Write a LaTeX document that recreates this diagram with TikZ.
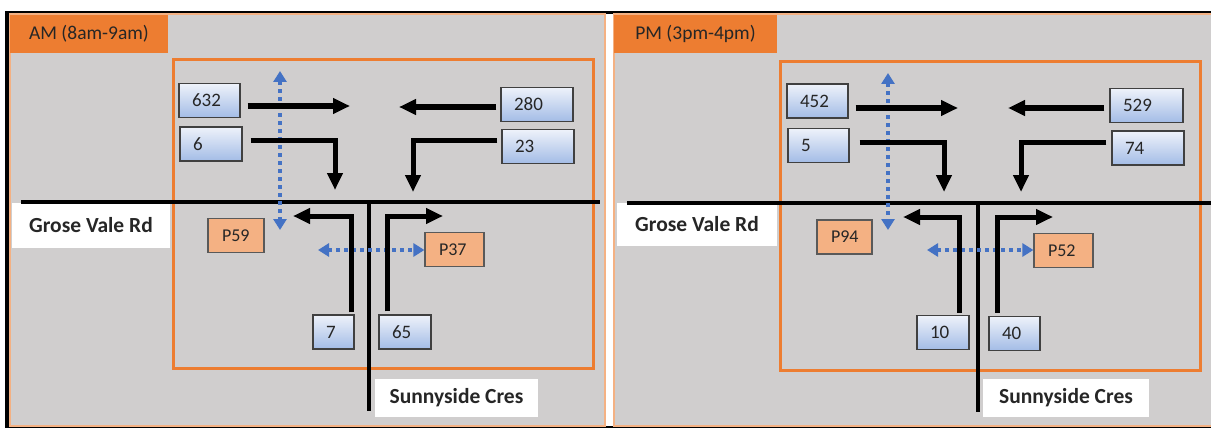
\documentclass[tikz,border=0pt]{standalone}
\usepackage{fontspec}
\setmainfont{Carlito}
\usetikzlibrary{arrows.meta,calc}
\definecolor{panelgrey}{HTML}{D0CECE}
\definecolor{orng}{HTML}{ED7D31}
\definecolor{lorng}{HTML}{F4B183}
\definecolor{pfill}{HTML}{F4B183}
\definecolor{bblue}{HTML}{4472C4}
\definecolor{boxtop}{HTML}{EEF2FA}
\definecolor{boxbot}{HTML}{A3BCE6}
\definecolor{txt}{HTML}{262626}
\begin{document}
\begin{tikzpicture}[x=1pt,y=-1pt,
  panel/.style={fill=panelgrey, draw=lorng, line width=1.5pt},
  header/.style={fill=orng, inner sep=0pt, minimum width=#1, minimum height=38pt, text=txt, font=\fontsize{19.5}{22}\selectfont},
  zone/.style={draw=orng, line width=3pt},
  numbox/.style={draw=black!75, line width=1.2pt, top color=boxtop, bottom color=boxbot, minimum height=34pt, inner ysep=0pt, inner xsep=13pt, align=left, text width=#1, text=txt, font=\fontsize{19}{22}\selectfont},
  pbox/.style={draw=black!65, line width=1.2pt, fill=pfill, minimum height=34pt, inner ysep=0pt, inner xsep=14pt, align=left, text width=#1, text=txt, font=\fontsize{18}{21}\selectfont},
  roadlbl/.style={fill=white, inner sep=0pt, minimum width=#1, text=txt, font=\fontsize{21.5}{24}\selectfont\bfseries},
  road/.style={line width=4pt, black},
  flow/.style={line width=5pt, black, -{Triangle[length=17pt,width=15pt]}},
  ped/.style={bblue, line width=4pt, dash pattern=on 4pt off 4pt, {Triangle[length=11pt,width=13pt]}-{Triangle[length=11pt,width=13pt]}}
]
\useasboundingbox (0,0) rectangle (1211,428);
\fill[white] (0,0) rectangle (1211,428);
\fill[black] (5,11) rectangle (1211,428);
\fill[white] (10,14) rectangle (1211,426);
\draw[panel] (10,14) rectangle (605,426);
\draw[panel] (614,14) rectangle (1216,426);

% ================= LEFT PANEL (AM) =================
\node[header=158pt] (hAM) at (89,34) {AM (8am-9am)};
\draw[zone] (173,60) rectangle (593,368);
\node[roadlbl=158pt, minimum height=45pt] (groseL) at (91,225.5) {Grose Vale Rd};
\node[roadlbl=163pt, minimum height=38pt] (sunnyL) at (456.5,398) {Sunnyside Cres};
\draw[road] (21,202) -- (600,202);
\draw[road] (369,202) -- (369,411);

\node[numbox=35pt] (b632) at (209.5,100.5) {632};
\node[numbox=36pt] (b6) at (211,144) {6};
\node[numbox=46pt] (b280) at (537,104.5) {280};
\node[numbox=46pt] (b23) at (538,146.5) {23};
\node[numbox=15pt] (b7) at (333.5,332) {7};
\node[numbox=26pt] (b65) at (405,332) {65};
\node[pbox=28pt] (p59) at (236,235.5) {P59};
\node[pbox=31pt] (p37) at (454.5,249.5) {P37};

\coordinate (t632) at (350,106);
\coordinate (t280) at (399,107);
\coordinate (c6) at (335,140);
\coordinate (t6) at (335,190);
\coordinate (c23) at (413,140);
\coordinate (t23) at (413,192);
\coordinate (c7) at (351,216);
\coordinate (t7) at (293,216);
\coordinate (c65) at (387,216);
\coordinate (t65) at (443,216);
\coordinate (pv1) at (280,71);
\coordinate (pv2) at (280,230);
\coordinate (ph1) at (318,250);

\draw[ped] (pv1) -- (pv2);
\draw[ped] (ph1) -- (p37.west |- ph1);
\draw[flow] ($(b632.east |- t632)+(7,0)$) -- (t632);
\draw[flow] ($(b280.west |- t280)+(-4,0)$) -- (t280);
\draw[flow] ($(b6.east |- c6)+(8,0)$) -- (c6) -- (t6);
\draw[flow] ($(b23.west |- c23)+(-4,0)$) -- (c23) -- (t23);
\draw[flow] ($(c7 |- b7.north)+(0,-2)$) -- (c7) -- (t7);
\draw[flow] ($(c65 |- b65.north)+(0,-3)$) -- (c65) -- (t65);

% ================= RIGHT PANEL (PM) =================
\node[header=163pt] (hPM) at (695.5,34) {PM (3pm-4pm)};
\draw[zone] (780,62) rectangle (1200,370);
\node[roadlbl=160pt, minimum height=43pt] (groseR) at (697,224.5) {Grose Vale Rd};
\node[roadlbl=166pt, minimum height=38pt] (sunnyR) at (1066,398) {Sunnyside Cres};
\draw[road] (627,203) -- (1211,203);
\draw[road] (978,203) -- (978,412);

\node[numbox=35pt] (b452) at (817.5,101) {452};
\node[numbox=35pt] (b5) at (818.5,145.5) {5};
\node[numbox=47pt] (b529) at (1146.5,105.5) {529};
\node[numbox=46pt] (b74) at (1148,148) {74};
\node[numbox=26pt] (b10) at (943,332.5) {10};
\node[numbox=25pt] (b40) at (1014.5,333.5) {40};
\node[pbox=27pt] (p94) at (844.5,237) {P94};
\node[pbox=31pt] (p52) at (1063.5,250.5) {P52};

\coordinate (t452) at (958,108);
\coordinate (t529) at (1008,108);
\coordinate (c5) at (944,142);
\coordinate (t5) at (944,192);
\coordinate (c74) at (1021,142);
\coordinate (t74) at (1021,192);
\coordinate (c10) at (959,217);
\coordinate (t10) at (903,217);
\coordinate (c40) at (997,217);
\coordinate (t40) at (1053,217);
\coordinate (qv1) at (888,73);
\coordinate (qv2) at (888,230);
\coordinate (qh1) at (927,250);

\draw[ped] (qv1) -- (qv2);
\draw[ped] (qh1) -- (p52.west |- qh1);
\draw[flow] ($(b452.east |- t452)+(7,0)$) -- (t452);
\draw[flow] ($(b529.west |- t529)+(-5,0)$) -- (t529);
\draw[flow] ($(b5.east |- c5)+(10,0)$) -- (c5) -- (t5);
\draw[flow] ($(b74.west |- c74)+(-5,0)$) -- (c74) -- (t74);
\draw[flow] ($(c10 |- b10.north)+(0,-2)$) -- (c10) -- (t10);
\draw[flow] ($(c40 |- b40.north)+(0,-3)$) -- (c40) -- (t40);
\end{tikzpicture}
\end{document}
